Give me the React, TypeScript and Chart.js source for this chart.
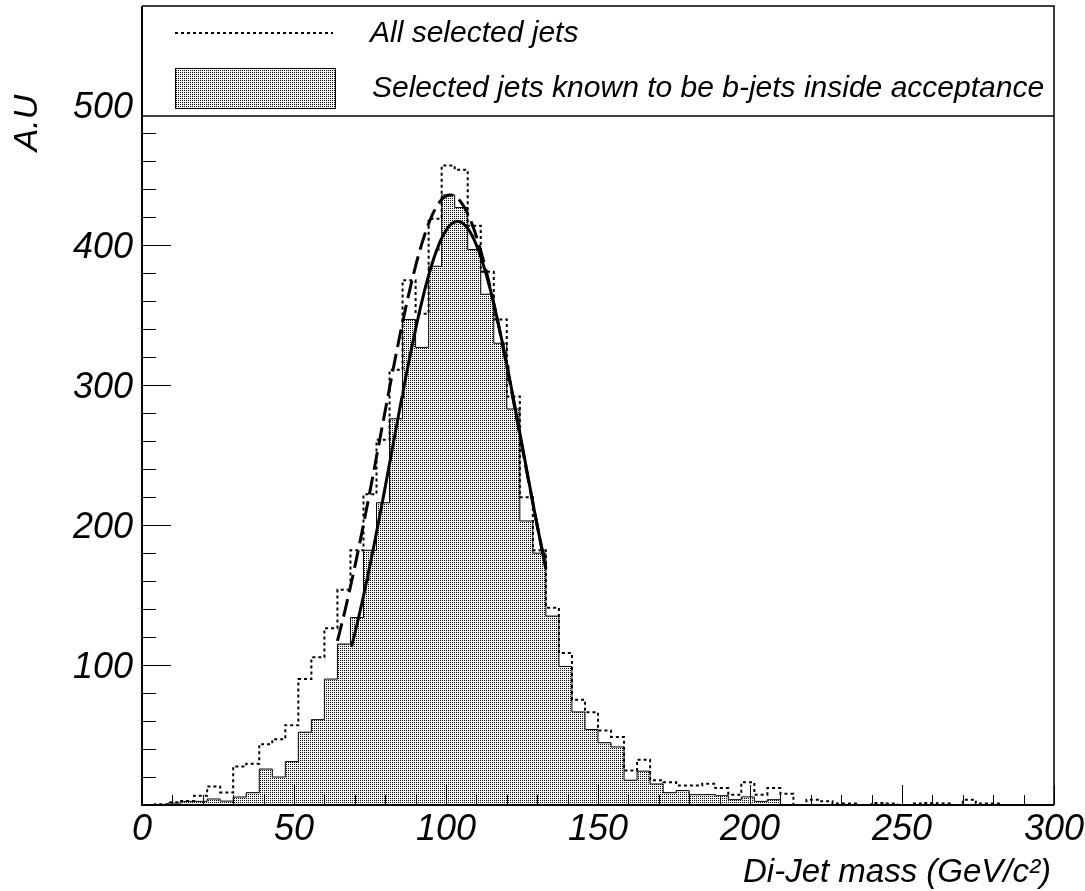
import React, { useEffect, useRef } from "react";
import { Chart, registerables } from "chart.js";

Chart.register(...registerables);

// ---- Data -----------------------------------------------------------------
const X_MIN = 0;
const X_MAX = 300;
const BIN_COUNT = 70;
const Y_MIN = 0;
const Y_MAX = 571;

const xTickLabels = [0, 50, 100, 150, 200, 250, 300];
const yTickLabels = [100, 200, 300, 400, 500];

// All selected jets (dotted histogram), 70 bins of 300/70 GeV
const allJets = [
  0, 0.5, 1.9, 2.8, 6.6, 13.3, 9, 27.6, 29.5, 43.5,
  47, 57, 90, 105.5, 126.4, 153.8, 182, 222, 261, 311,
  375, 351, 419, 457, 454, 414, 381, 347, 292, 220,
  182, 141, 108.6, 75.2, 66.2, 53.3, 48.6, 24.7, 32.4, 17.6,
  16.2, 14, 14, 15.2, 12.1, 7.4, 16.2, 7.4, 12.1, 8.1,
  0, 3.8, 2.6, 1, 1, 0, 1.5, 1, 0, 1,
  1.5, 1, 0, 3.8, 1, 1, 0, 0, 0, 0,
];

// Selected jets known to be b-jets inside acceptance (filled histogram)
const bJets = [
  0, 0, 1.4, 2.6, 2.6, 4.3, 2.8, 5.7, 8.8, 25.7,
  20, 31, 52, 61, 90, 115, 134, 182, 216, 276,
  347, 327, 385, 436, 427, 397, 365, 330, 283, 203,
  180, 135, 99, 66.5, 54, 44.5, 41.5, 17.7, 24.2, 15,
  8.8, 10.3, 7.4, 7.4, 6.6, 3.8, 5.8, 2.6, 3.8, 0,
  0, 0, 0, 0, 0, 0, 0, 0, 0, 0,
  0, 0, 0, 0, 0, 0, 0, 0, 0, 0,
];

// Gaussian fits: [constant, mean, sigma] and fit range [lo, hi]
const bFitParams = [417, 103.8, 21.6];
const bFitRange = [68.9, 132.86];
const allFitParams = [436, 101.4, 22.9];
const allFitRange = [64.29, 132.86];

const legendLabels = [
  "All selected jets",
  "Selected jets known to be b-jets inside acceptance",
];
const xTitle = "Di-Jet mass (GeV/c\u00B2)";
const yTitle = "A.U";

// ---- Helpers ----------------------------------------------------------------
const FONT_FAMILY = "'Liberation Sans', Arial, Helvetica, sans-serif";
const binWidth = (X_MAX - X_MIN) / BIN_COUNT;

function histPoints(vals: number[]) {
  const pts = vals.map((v, i) => ({ x: X_MIN + i * binWidth, y: v }));
  pts.push({ x: X_MAX, y: vals[vals.length - 1] });
  return pts;
}

function fitPoints(params: number[], range: number[]) {
  const [c, m, s] = params;
  const pts: { x: number; y: number }[] = [];
  const n = 200;
  for (let i = 0; i <= n; i++) {
    const x = range[0] + ((range[1] - range[0]) * i) / n;
    pts.push({ x, y: c * Math.exp(-((x - m) * (x - m)) / (2 * s * s)) });
  }
  return pts;
}

function makePattern(ctx: CanvasRenderingContext2D) {
  const tile = document.createElement("canvas");
  tile.width = 2;
  tile.height = 2;
  const t = tile.getContext("2d")!;
  t.fillStyle = "#f6f6f6";
  t.fillRect(0, 0, 2, 2);
  t.fillStyle = "#000";
  t.fillRect(0, 0, 1, 1);
  return ctx.createPattern(tile, "repeat")!;
}

export default function App() {
  const canvasRef = useRef<HTMLCanvasElement>(null);

  useEffect(() => {
    const canvas = canvasRef.current!;
    const ctx0 = canvas.getContext("2d")!;
    const pattern = makePattern(ctx0);

    const framePlugin = {
      id: "rootFrame",
      afterDraw(chart: any) {
        const { ctx, chartArea } = chart;
        const { left, right, top, bottom } = chartArea;
        const xs = chart.scales.x;
        const ys = chart.scales.y;
        ctx.save();
        ctx.strokeStyle = "#000";
        ctx.lineWidth = 1;
        ctx.setLineDash([]);
        // x ticks (inward)
        for (let v = X_MIN; v <= X_MAX; v += 10) {
          const px = Math.round(xs.getPixelForValue(v)) + 0.5;
          const len = v % 50 === 0 ? 20 : 10;
          ctx.beginPath();
          ctx.moveTo(px, bottom);
          ctx.lineTo(px, bottom - len);
          ctx.stroke();
        }
        // y ticks (inward)
        for (let v = Y_MIN; v <= Y_MAX; v += 20) {
          const py = Math.round(ys.getPixelForValue(v)) + 0.5;
          const len = v % 100 === 0 ? 29 : 14;
          ctx.beginPath();
          ctx.moveTo(left, py);
          ctx.lineTo(left + len, py);
          ctx.stroke();
        }

        // legend box
        const legBottom = 116;
        ctx.fillStyle = "#fff";
        ctx.fillRect(left, top, right - left, legBottom - top);
        ctx.lineWidth = 1.5;
        ctx.beginPath();
        ctx.moveTo(left, legBottom);
        ctx.lineTo(right, legBottom);
        ctx.stroke();

        // legend entry 1: dotted line
        ctx.lineWidth = 2;
        ctx.setLineDash([3, 3]);
        ctx.beginPath();
        ctx.moveTo(175, 33);
        ctx.lineTo(333, 33);
        ctx.stroke();
        ctx.setLineDash([]);
        // legend entry 2: filled box
        ctx.fillStyle = pattern;
        ctx.fillRect(175, 68, 160, 40);
        ctx.lineWidth = 1;
        ctx.strokeRect(175.5, 68.5, 160, 40);

        ctx.fillStyle = "#000";
        ctx.font = `italic 30px ${FONT_FAMILY}`;
        ctx.textAlign = "left";
        ctx.textBaseline = "middle";
        ctx.fillText(legendLabels[0], 370, 34);
        ctx.fillText(legendLabels[1], 372, 89);

        // frame
        ctx.lineWidth = 1.5;
        ctx.beginPath();
        ctx.moveTo(left, top);
        ctx.lineTo(right, top);
        ctx.lineTo(right, bottom);
        ctx.stroke();
        ctx.lineWidth = 2;
        ctx.beginPath();
        ctx.moveTo(left, top);
        ctx.lineTo(left, bottom);
        ctx.lineTo(right, bottom);
        ctx.stroke();

        // y title
        ctx.save();
        ctx.translate(28, 123);
        ctx.rotate(-Math.PI / 2);
        ctx.font = `italic 34px ${FONT_FAMILY}`;
        ctx.textAlign = "center";
        ctx.textBaseline = "middle";
        ctx.fillText(yTitle, 0, 0);
        ctx.restore();

        // x title (right aligned at the end of the axis)
        ctx.font = `italic 33px ${FONT_FAMILY}`;
        ctx.textAlign = "right";
        ctx.textBaseline = "alphabetic";
        ctx.fillText(xTitle, 1051, 882);

        ctx.restore();
      },
    };

    const tickFont = { family: FONT_FAMILY, size: 36, style: "italic" as const };

    const chart = new Chart(canvas, {
      type: "line",
      data: {
        datasets: [
          {
            label: legendLabels[1],
            data: histPoints(bJets),
            stepped: true,
            borderColor: "#000",
            borderWidth: 1,
            backgroundColor: pattern,
            fill: "origin",
            pointRadius: 0,
            order: 4,
          },
          {
            label: legendLabels[0],
            data: histPoints(allJets),
            stepped: true,
            borderColor: "#000",
            borderWidth: 2,
            borderDash: [3, 3],
            fill: false,
            pointRadius: 0,
            order: 3,
          },
          {
            label: "fit all",
            data: fitPoints(allFitParams, allFitRange),
            borderColor: "#000",
            borderWidth: 3,
            borderDash: [18, 7],
            fill: false,
            pointRadius: 0,
            tension: 0,
            order: 2,
          },
          {
            label: "fit b",
            data: fitPoints(bFitParams, bFitRange),
            borderColor: "#000",
            borderWidth: 3,
            fill: false,
            pointRadius: 0,
            tension: 0,
            order: 1,
          },
        ],
      },
      options: {
        animation: false,
        responsive: false,
        maintainAspectRatio: false,
        events: [],
        layout: { padding: { left: 0, top: 6, right: 31, bottom: 0 } },
        plugins: {
          legend: { display: false },
          tooltip: { enabled: false },
          title: { display: false },
        },
        scales: {
          x: {
            type: "linear",
            min: X_MIN,
            max: X_MAX,
            afterBuildTicks(s: any) {
              s.ticks = xTickLabels.map((v) => ({ value: v }));
            },
            afterFit(s: any) {
              s.height = 86;
              s.paddingLeft = 0;
              s.paddingRight = 0;
            },
            grid: { display: false, drawTicks: false },
            border: { display: false },
            ticks: {
              font: tickFont,
              color: "#000",
              padding: 3,
              maxRotation: 0,
              autoSkip: false,
              callback: (v: any) => String(v),
            },
          },
          y: {
            type: "linear",
            min: Y_MIN,
            max: Y_MAX,
            afterBuildTicks(s: any) {
              s.ticks = yTickLabels.map((v) => ({ value: v }));
            },
            afterFit(s: any) {
              s.width = 142;
              s.paddingTop = 0;
              s.paddingBottom = 0;
            },
            grid: { display: false, drawTicks: false },
            border: { display: false },
            ticks: {
              font: tickFont,
              color: "#000",
              padding: 9,
              labelOffset: 3,
              autoSkip: false,
              callback: (v: any) => String(v),
            },
          },
        },
      },
      plugins: [framePlugin],
    } as any);

    return () => chart.destroy();
  }, []);

  return (
    <div
      style={{
        position: "absolute",
        left: 0,
        top: 0,
        width: 1085,
        height: 891,
        background: "#fff",
      }}
    >
      <canvas
        ref={canvasRef}
        width={1085}
        height={891}
        style={{ width: 1085, height: 891, display: "block" }}
      />
    </div>
  );
}
